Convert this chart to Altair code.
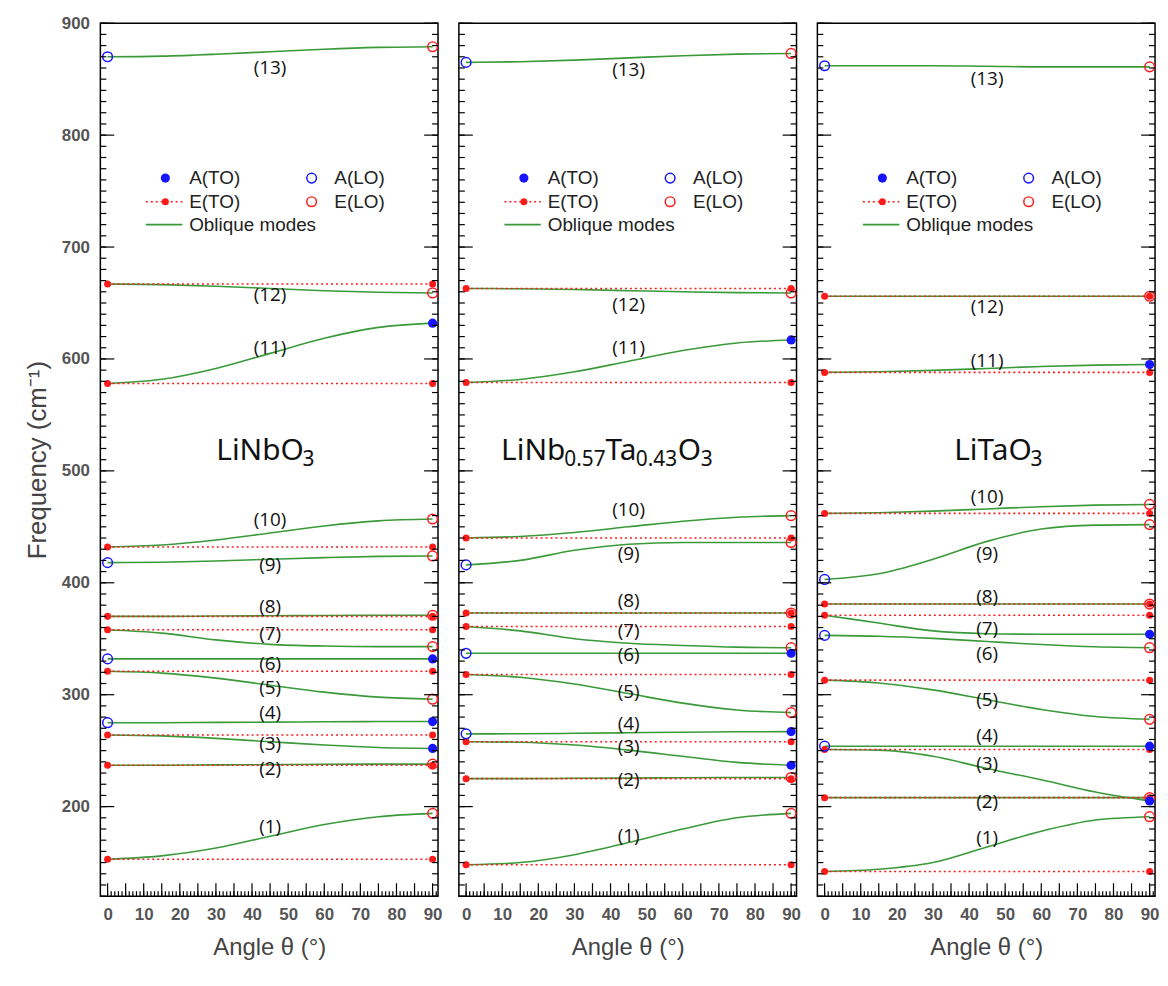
import altair as alt
import pandas as pd

# ---------------- data ----------------
ANGLES = [0, 15, 30, 45, 60, 75, 90]
MODE_NAMES = ["(1)", "(2)", "(3)", "(4)", "(5)", "(6)", "(7)",
              "(8)", "(9)", "(10)", "(11)", "(12)", "(13)"]
LABEL_ANGLE = 45

# compound names, split into normal / subscript pieces
TITLE_PIECES = [
    ["LiNbO", "3"],
    ["LiNb", "0.57", "Ta", "0.43", "O", "3"],
    ["LiTaO", "3"],
]
TITLE_IS_SUB = [
    [False, True],
    [False, True, False, True, False, True],
    [False, True],
]
TITLE_PIECE_ANGLE = [
    [30.1, 54.0],
    [9.7, 27.2, 38.6, 47.0, 58.6, 65.0],
    [35.9, 57.0],
]
TITLE_FREQ = 518
SUB_FREQ = 510

# LiNbO3 oblique modes (frequency at ANGLES)
NB_MODES = [
    [153, 156, 163, 173.5, 184, 191, 194],
    [237, 237, 237.3, 237.5, 237.8, 238, 238],
    [264, 263.2, 261, 258, 255, 252.8, 252],
    [275, 275, 275.3, 275.5, 275.8, 276, 276],
    [321, 319.3, 314.8, 308.5, 302.3, 297.8, 296],
    [332, 332, 332, 332, 332, 332, 332],
    [358, 355, 349, 345, 343.5, 343, 343],
    [370, 370, 370.3, 370.5, 370.8, 371, 371],
    [418, 418.4, 419.5, 421, 422.5, 423.6, 424],
    [432, 433.8, 438.3, 444.5, 450.8, 455.3, 457],
    [578, 581.8, 591.5, 605, 618.5, 628.2, 632],
    [667, 666.4, 665, 663, 661, 659.6, 659],
    [870, 870.6, 872.3, 874.5, 876.8, 878.4, 879],
]
NB_ETO = [153, 237, 264, 321, 358, 370, 432, 578, 667]
NB_ALO = [275, 332, 418, 870]
NB_ATO = [252, 276, 332, 632]
NB_ELO = [194, 238, 296, 343, 371, 424, 457, 659, 879]
NB_LABEL_Y = [182, 234, 256, 284, 306, 327, 354, 378, 416, 456, 610, 657, 860]

# LiNb0.57Ta0.43O3
NBTA_MODES = [
    [148, 150, 157, 168, 180, 190, 194],
    [225, 225, 225.3, 225.5, 225.8, 226, 226],
    [258, 257.5, 255, 250.5, 245, 239.5, 237],
    [265, 265.1, 265.5, 266, 266.5, 266.9, 267],
    [318, 315.6, 309.5, 301, 292.5, 286.4, 284],
    [337, 337, 337, 337, 337, 337, 337],
    [361, 357, 350, 346, 344, 342.5, 342],
    [373, 373, 373, 373, 373, 373, 373],
    [416, 420, 429, 434.5, 436, 436, 436],
    [440, 441.4, 445, 450, 455, 458.6, 460],
    [579, 581.7, 588.5, 598, 607.5, 614.3, 617],
    [663, 662.7, 662, 661, 660, 659.3, 659],
    [865, 865.6, 867, 869, 871, 872.4, 873],
]
NBTA_ETO = [148, 225, 258, 318, 361, 373, 440, 579, 663]
NBTA_ALO = [265, 337, 416, 865]
NBTA_ATO = [237, 267, 337, 617]
NBTA_ELO = [194, 226, 284, 342, 373, 436, 460, 659, 873]
NBTA_LABEL_Y = [174, 224, 253, 274, 302, 335, 357, 384, 426, 465, 610, 648, 858]

# LiTaO3
TA_MODES = [
    [142, 144, 150, 164, 178, 188, 191],
    [208, 208, 208, 208, 208, 208, 208],
    [251, 250.5, 245, 234, 224, 213, 205],
    [254, 254, 254, 254, 254, 254, 254],
    [313, 310.5, 304.3, 295.5, 286.8, 280.5, 278],
    [353, 352.2, 350.3, 347.5, 344.8, 342.8, 342],
    [371, 364, 357, 354.5, 354, 354, 354],
    [381, 381, 381, 381, 381, 381, 381],
    [403, 408, 421, 437, 448, 451.5, 452],
    [462, 462.6, 464, 466, 468, 469.4, 470],
    [588, 588.5, 589.8, 591.5, 593.3, 594.5, 595],
    [656, 656, 656, 656, 656, 656, 656],
    [862, 862, 862, 861.5, 861, 861, 861],
]
TA_ETO = [142, 208, 251, 313, 371, 381, 462, 588, 656]
TA_ALO = [254, 353, 403, 862]
TA_ATO = [205, 254, 354, 595]
TA_ELO = [191, 208, 278, 342, 381, 452, 470, 656, 861]
TA_LABEL_Y = [172, 204, 238, 263, 295, 336, 359, 387, 426, 477, 598, 646, 850]

# legend (inside each panel)
LEGEND_TEXT = ["A(TO)", "A(LO)", "E(TO)", "E(LO)", "Oblique modes"]
LEGEND_KIND = ["ATO", "ALO", "ETO", "ELO", "OBL"]
LEGEND_SYM_X = [16, 56.5, 16, 56.5, 16]
LEGEND_TEXT_X = [22.6, 62.8, 22.6, 62.8, 22.6]
LEGEND_Y = [761.6, 761.6, 740.5, 740.5, 720]
LEGEND_LINE_X = [10.6, 20.7]

Y_TICK_LABELS = [200, 300, 400, 500, 600, 700, 800, 900]
X_TICK_LABELS = [0, 10, 20, 30, 40, 50, 60, 70, 80, 90]
Y_MINOR = list(range(120, 901, 10))
X_MINOR = list(range(0, 92, 1))
X_MAJOR = list(range(0, 91, 5))

# ---------------- styling ----------------
W, H = 340, 879
XS = alt.Scale(domain=[-2, 91.5], nice=False, zero=False)
YS = alt.Scale(domain=[120, 900], nice=False, zero=False)
GREEN = "#3a9a3a"
RED = "#ff1a1a"
BLUE = "#1515ff"
AXFONT = "Liberation Sans"


def panel(idx, modes, eto, alo, ato, elo, label_y):
    first = idx == 0
    x_axis = alt.Axis(values=X_TICK_LABELS, ticks=False, domain=False, grid=False,
                      labelFont=AXFONT, labelFontSize=17, labelFontWeight="bold",
                      labelColor="#555", labelPadding=11, labelOverlap=False,
                      labelFlush=False, title="Angle θ (°)", titleFont=AXFONT,
                      titleFontSize=24, titleFontWeight="normal", titleColor="#444",
                      titlePadding=13)
    if first:
        y_axis = alt.Axis(values=Y_TICK_LABELS, ticks=False, domain=False, grid=False,
                          labelFont=AXFONT, labelFontSize=17, labelFontWeight="bold",
                          labelColor="#555", labelPadding=11, labelOverlap=False,
                          labelFlush=False, title="Frequency (cm⁻¹)", titleFont=AXFONT,
                          titleFontSize=26, titleFontWeight="normal", titleColor="#444",
                          titlePadding=10, minExtent=40, maxExtent=40)
    else:
        y_axis = None

    def X(field="angle"):
        return alt.X(f"{field}:Q", scale=XS, axis=x_axis)

    def Y(field="freq"):
        return alt.Y(f"{field}:Q", scale=YS, axis=y_axis)

    curve_df = pd.DataFrame([{"mode": m, "angle": a, "freq": f}
                             for m, vals in enumerate(modes)
                             for a, f in zip(ANGLES, vals)])
    eto_df = pd.DataFrame([{"line": k, "angle": a, "freq": f}
                           for k, f in enumerate(eto) for a in (0, 90)])
    pts = ([{"kind": "ETO", "angle": a, "freq": f} for f in eto for a in (0, 90)]
           + [{"kind": "ALO", "angle": 0, "freq": f} for f in alo]
           + [{"kind": "ATO", "angle": 90, "freq": f} for f in ato]
           + [{"kind": "ELO", "angle": 90, "freq": f} for f in elo]
           + [{"kind": k, "angle": sx, "freq": ly}
              for k, sx, ly in zip(LEGEND_KIND, LEGEND_SYM_X, LEGEND_Y) if k != "OBL"])
    pts_df = pd.DataFrame(pts)
    lab_df = pd.DataFrame({"angle": [LABEL_ANGLE] * len(MODE_NAMES),
                           "freq": label_y, "text": MODE_NAMES})
    title_df = pd.DataFrame({
        "angle": TITLE_PIECE_ANGLE[idx],
        "freq": [SUB_FREQ if s else TITLE_FREQ for s in TITLE_IS_SUB[idx]],
        "fs": [21 if s else 30 for s in TITLE_IS_SUB[idx]],
        "text": TITLE_PIECES[idx],
    })
    leg_text_df = pd.DataFrame({"angle": LEGEND_TEXT_X, "freq": LEGEND_Y,
                                "text": LEGEND_TEXT})
    leg_line_df = pd.DataFrame({"a1": [LEGEND_LINE_X[0]] * 2, "a2": [LEGEND_LINE_X[1]] * 2,
                                "freq": [LEGEND_Y[2], LEGEND_Y[4]],
                                "kind": ["ETO", "OBL"]})

    layers = []
    layers.append(alt.Chart(curve_df).mark_line(color=GREEN, strokeWidth=1.6,
                                                interpolate="monotone").encode(
        x=X(), y=Y(), detail="mode:N"))
    layers.append(alt.Chart(eto_df).mark_line(color=RED, strokeWidth=1.6,
                                              strokeDash=[2, 3]).encode(
        x=X(), y=Y(), detail="line:N"))
    layers.append(alt.Chart(leg_line_df).transform_filter("datum.kind == 'ETO'").mark_rule(
        color=RED, strokeWidth=1.6, strokeDash=[2, 3]).encode(
        x=X("a1"), x2="a2:Q", y=Y()))
    layers.append(alt.Chart(leg_line_df).transform_filter("datum.kind == 'OBL'").mark_rule(
        color=GREEN, strokeWidth=1.8).encode(x=X("a1"), x2="a2:Q", y=Y()))
    layers.append(alt.Chart(pts_df).transform_filter("datum.kind == 'ETO'").mark_point(
        shape="circle", filled=True, color=RED, size=50, opacity=1).encode(x=X(), y=Y()))
    layers.append(alt.Chart(pts_df).transform_filter("datum.kind == 'ELO'").mark_point(
        shape="circle", filled=False, color=RED, size=95, strokeWidth=1.5,
        opacity=1).encode(x=X(), y=Y()))
    layers.append(alt.Chart(pts_df).transform_filter("datum.kind == 'ATO'").mark_point(
        shape="circle", filled=True, color=BLUE, size=85, opacity=1).encode(x=X(), y=Y()))
    layers.append(alt.Chart(pts_df).transform_filter("datum.kind == 'ALO'").mark_point(
        shape="circle", filled=False, color=BLUE, size=95, strokeWidth=1.5,
        opacity=1).encode(x=X(), y=Y()))
    layers.append(alt.Chart(lab_df).mark_text(font="Open Sans", fontSize=19, color="#111",
                                              align="center", baseline="middle").encode(
        x=X(), y=Y(), text="text:N"))
    layers.append(alt.Chart(title_df).mark_text(font="Noto Sans", color="#111",
                                                align="left", baseline="middle").encode(
        x=X(), y=Y(), text="text:N", size=alt.Size("fs:Q", scale=None)))
    layers.append(alt.Chart(leg_text_df).mark_text(font=AXFONT, fontSize=19, color="#222",
                                                   align="left", baseline="middle").encode(
        x=X(), y=Y(), text="text:N"))
    ymin = pd.DataFrame({"v": Y_MINOR})
    ymaj = pd.DataFrame({"v": Y_TICK_LABELS})
    xmin = pd.DataFrame({"v": X_MINOR})
    xmaj = pd.DataFrame({"v": X_MAJOR})
    tk = dict(color="black", strokeWidth=1.2)
    layers.append(alt.Chart(ymin).mark_rule(**tk).encode(y=Y("v"), x=alt.value(0), x2=alt.value(6)))
    layers.append(alt.Chart(ymaj).mark_rule(**tk).encode(y=Y("v"), x=alt.value(0), x2=alt.value(14)))
    layers.append(alt.Chart(ymin).mark_rule(**tk).encode(y=Y("v"), x=alt.value(W), x2=alt.value(W - 6)))
    layers.append(alt.Chart(ymaj).mark_rule(**tk).encode(y=Y("v"), x=alt.value(W), x2=alt.value(W - 14)))
    layers.append(alt.Chart(xmin).mark_rule(**tk).encode(x=X("v"), y=alt.value(H), y2=alt.value(H - 5)))
    layers.append(alt.Chart(xmaj).mark_rule(**tk).encode(x=X("v"), y=alt.value(H), y2=alt.value(H - 13)))

    return alt.layer(*layers).properties(width=W, height=H)


panels = [
    panel(0, NB_MODES, NB_ETO, NB_ALO, NB_ATO, NB_ELO, NB_LABEL_Y),
    panel(1, NBTA_MODES, NBTA_ETO, NBTA_ALO, NBTA_ATO, NBTA_ELO, NBTA_LABEL_Y),
    panel(2, TA_MODES, TA_ETO, TA_ALO, TA_ATO, TA_ELO, TA_LABEL_Y),
]

chart = alt.hconcat(*panels, spacing=14).configure_view(
    stroke="black", strokeWidth=1.5
).properties(padding={"left": 16, "top": 2, "right": 0, "bottom": 0},
             background="white")

chart.save("out.html", embed_options={"renderer": "svg", "actions": False})
